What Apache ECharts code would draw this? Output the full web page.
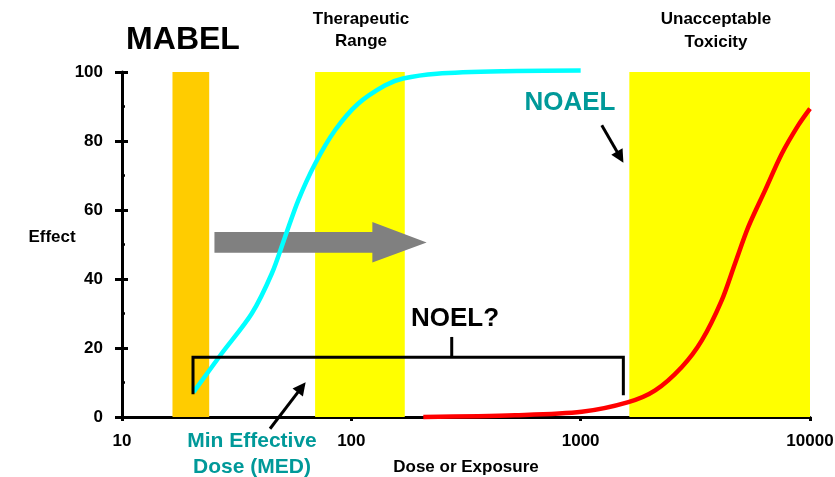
<!DOCTYPE html>
<html>
<head>
<meta charset="utf-8">
<script src="https://cdn.jsdelivr.net/npm/echarts@6/dist/echarts.min.js"></script>
<style>
html,body{margin:0;padding:0;background:#fff;}
#main{width:835px;height:477px;}
</style>
</head>
<body>
<div id="main"></div>
<script>
// ---- data ----
var xTicks = [10, 100, 1000, 10000];
var yTicks = [0, 20, 40, 60, 80, 100];

var doseCyan   = [20.5, 27.2, 36.8, 45.0, 51.4, 58.7, 69.5, 84.9, 107, 140, 168, 236, 459, 1000];
var effectCyan = [7.2, 18.4, 30.0, 41.6, 52.2, 62.8, 73.4, 83.1, 90.8, 96.1, 98.1, 99.5, 100.2, 100.4];

var doseRed    = [206, 517, 1011, 1614, 2113, 2762, 3375, 4121, 4710, 5383, 6368, 7534, 8895, 10000];
var effectRed  = [0, 0.5, 1.5, 4.3, 7.7, 14.5, 22.2, 33.8, 44.5, 55.1, 65.7, 76.3, 84.6, 89.4];

var mabelBand       = [16.6, 24.0, 100.5];
var therapeuticBand = [69.5, 171, 100];
var toxicBand       = [1630, 10000, 100];

// annotation anchors in data units [dose, effect]
var bracketX      = [20.4, 274, 1535];   // left, centre tick, right
var bracketY      = [17.3, 6.6, 6.3, 23.2]; // bar, left foot, right foot, centre top
var bigArrowX     = [25.3, 123.5, 213];  // tail, head base, tip
var bigArrowY     = [50.6, 53.6, 47.6, 56.5, 44.75]; // centre, body top, body bottom, head top, head bottom
var medArrow      = [[44.2, -3.4], [63.2, 10.1]];
var noaelArrow    = [[1236, 84.6], [1536, 73.7]];

var FONT = '"Liberation Sans", Arial, sans-serif';

function cyanData(){ return doseCyan.map(function(d,i){return [d, effectCyan[i]];}); }
function redData(){ return doseRed.map(function(d,i){return [d, effectRed[i]];}); }

function arrowShapes(api, from, to, color){
  var p0 = api.coord(from), p1 = api.coord(to);
  var dx = p1[0]-p0[0], dy = p1[1]-p0[1];
  var L = Math.sqrt(dx*dx+dy*dy), ux = dx/L, uy = dy/L;
  var hl = 13, hw = 6.5;
  var bx = p1[0]-ux*hl, by = p1[1]-uy*hl;
  return [
    {type:'line', shape:{x1:p0[0],y1:p0[1],x2:bx+ux*2,y2:by+uy*2}, style:{stroke:color,lineWidth:3}},
    {type:'polygon', shape:{points:[[p1[0],p1[1]],[bx-uy*hw,by+ux*hw],[bx+uy*hw,by-ux*hw]]}, style:{fill:color}}
  ];
}

var chart = echarts.init(document.getElementById('main'), null, {renderer:'canvas'});

var option = {
  animation: false,
  backgroundColor: '#ffffff',
  grid: {left:122, right:25, top:72, bottom:60, containLabel:false, outerBoundsMode:'none'},
  xAxis: {
    type:'log', logBase:10, min:xTicks[0], max:xTicks[xTicks.length-1],
    name:'Dose or Exposure', nameLocation:'middle', nameGap:42,
    nameTextStyle:{fontFamily:FONT, fontWeight:'bold', fontSize:17, color:'#000'},
    axisLine:{lineStyle:{color:'#000', width:3}},
    axisTick:{show:true, length:4, lineStyle:{color:'#000', width:3}},
    axisLabel:{fontFamily:FONT, fontWeight:'bold', fontSize:17, color:'#000', margin:16,
      formatter:function(v){ return String(Math.round(v)); }},
    splitLine:{show:false}, minorTick:{show:false}
  },
  yAxis: [{
    type:'value', min:yTicks[0], max:yTicks[yTicks.length-1], interval:20,
    axisLine:{show:true, lineStyle:{color:'#000', width:3}},
    axisTick:{show:true, length:7, lineStyle:{color:'#000', width:3}},
    axisLabel:{fontFamily:FONT, fontWeight:'bold', fontSize:17, color:'#000', margin:19},
    splitLine:{show:false}
  },{
    type:'value', min:yTicks[0], max:yTicks[yTicks.length-1], interval:20, position:'left',
    axisLine:{show:false},
    axisTick:{show:true, inside:true, length:6, lineStyle:{color:'#000', width:3}},
    minorTick:{show:true, splitNumber:2, length:3, lineStyle:{color:'#000', width:2.5}},
    axisLabel:{show:false}, splitLine:{show:false}
  }],
  series: [
    {
      type:'line', name:'bands', data:[], z:1, silent:true,
      markArea:{
        silent:true,
        data:[
          [{xAxis:mabelBand[0], yAxis:0, itemStyle:{color:'#FFCC00'}}, {xAxis:mabelBand[1], yAxis:mabelBand[2]}],
          [{xAxis:therapeuticBand[0], yAxis:0, itemStyle:{color:'#FFFF00'}}, {xAxis:therapeuticBand[1], yAxis:therapeuticBand[2]}],
          [{xAxis:toxicBand[0], yAxis:0, itemStyle:{color:'#FFFF00'}}, {xAxis:toxicBand[1], yAxis:toxicBand[2]}]
        ]
      }
    },
    {
      type:'custom', name:'bigArrow', z:3, clip:false, silent:true,
      data:[[bigArrowX[0], bigArrowY[0]]],
      renderItem:function(params, api){
        var pts = [
          [bigArrowX[0], bigArrowY[1]], [bigArrowX[1], bigArrowY[1]], [bigArrowX[1], bigArrowY[3]],
          [bigArrowX[2], bigArrowY[0]],
          [bigArrowX[1], bigArrowY[4]], [bigArrowX[1], bigArrowY[2]], [bigArrowX[0], bigArrowY[2]]
        ].map(function(p){return api.coord(p);});
        return {type:'polygon', shape:{points:pts}, style:{fill:'#808080'}};
      }
    },
    {
      type:'line', name:'Efficacy', data:cyanData(), smooth:0.3, symbol:'none', z:4, clip:false,
      lineStyle:{color:'#00FFFF', width:4.5}
    },
    {
      type:'line', name:'Toxicity', data:redData(), smooth:0.3, symbol:'none', z:4, clip:false,
      lineStyle:{color:'#FF0000', width:4.5}
    },
    {
      type:'custom', name:'annotations', z:5, clip:false, silent:true,
      data:[[bracketX[1], bracketY[0]]],
      renderItem:function(params, api){
        var a = api.coord([bracketX[0], bracketY[1]]);
        var b = api.coord([bracketX[0], bracketY[0]]);
        var c = api.coord([bracketX[2], bracketY[0]]);
        var d = api.coord([bracketX[2], bracketY[2]]);
        var m0 = api.coord([bracketX[1], bracketY[0]]);
        var m1 = api.coord([bracketX[1], bracketY[3]]);
        var children = [
          {type:'polyline', shape:{points:[a,b,c,d]}, style:{stroke:'#000', lineWidth:3, fill:null}},
          {type:'line', shape:{x1:m0[0],y1:m0[1],x2:m1[0],y2:m1[1]}, style:{stroke:'#000', lineWidth:3}}
        ];
        children = children.concat(arrowShapes(api, medArrow[0], medArrow[1], '#000'));
        children = children.concat(arrowShapes(api, noaelArrow[0], noaelArrow[1], '#000'));
        return {type:'group', children:children};
      }
    }
  ],
  graphic: [
    {type:'text', x:183, y:40, style:{text:'MABEL', font:'bold 32px '+FONT, fill:'#000', textAlign:'center', textVerticalAlign:'middle'}},
    {type:'text', x:361, y:30, style:{text:'Therapeutic\nRange', font:'bold 17px '+FONT, lineHeight:22, fill:'#000', textAlign:'center', textVerticalAlign:'middle'}},
    {type:'text', x:716, y:31, style:{text:'Unacceptable\nToxicity', font:'bold 17px '+FONT, lineHeight:23, fill:'#000', textAlign:'center', textVerticalAlign:'middle'}},
    {type:'text', x:570, y:103, style:{text:'NOAEL', font:'bold 26px '+FONT, fill:'#009999', textAlign:'center', textVerticalAlign:'middle'}},
    {type:'text', x:455, y:319, style:{text:'NOEL?', font:'bold 26px '+FONT, fill:'#000', textAlign:'center', textVerticalAlign:'middle'}},
    {type:'text', x:252, y:454, style:{text:'Min Effective\nDose (MED)', font:'bold 21px '+FONT, lineHeight:26, fill:'#009999', textAlign:'center', textVerticalAlign:'middle'}},
    {type:'text', x:52, y:237, style:{text:'Effect', font:'bold 17px '+FONT, fill:'#000', textAlign:'center', textVerticalAlign:'middle'}}
  ]
};
chart.setOption(option);
</script>
</body>
</html>
